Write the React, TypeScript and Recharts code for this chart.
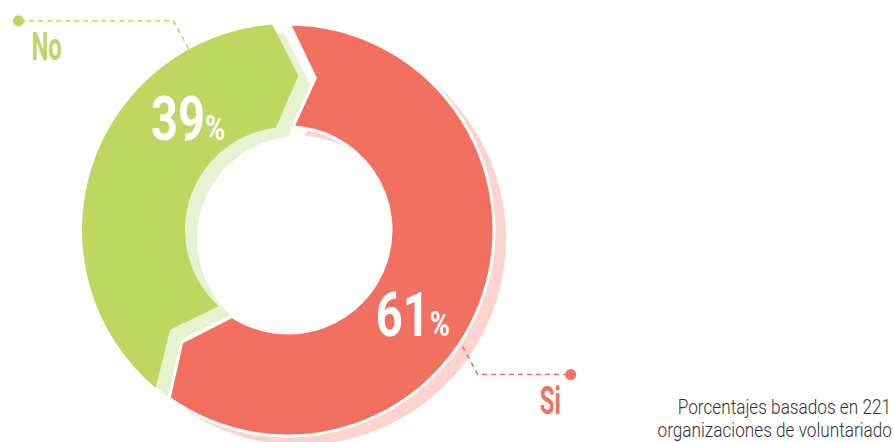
import React from 'react';
import { PieChart, Pie } from 'recharts';

if (typeof document !== 'undefined') {
  document.body.style.margin = '0';
}

// ---- data ----
const categories = ['No', 'Si'];
const values = [39, 61];
const footnoteLines = ['Porcentajes basados en 221', 'organizaciones de voluntariado'];

// ---- styles ----
const MAIN_COLORS = ['#BED760', '#F2705F'];
const SHADOW_COLORS = ['#E7F2D0', '#FBD4D0'];
const FONT = "Roboto, 'Open Sans', 'Liberation Sans', sans-serif";

const data = categories.map((name, i) => ({ name, value: values[i] }));

const W = 894;
const H = 442;
const CX = 288;
const CY = 230;
const RI = 103;
const RO = 206;
const SHADOW_DX = 12;
const SHADOW_DY = 9;
const GAP = 17;
const TIP = 9;
const START = 92;
const LABEL_SHIFT = [-30.5, -16.2];
const LEADER_ANGLE = [118.7, -37.3];
const LEADER_LEN = [-155, 93];

const RAD = Math.PI / 180;
const polar = (cx: number, cy: number, r: number, a: number): [number, number] => [
  cx + r * Math.cos(a * RAD),
  cy - r * Math.sin(a * RAD),
];
const fmt = (p: [number, number]) => `${p[0].toFixed(2)},${p[1].toFixed(2)}`;

function chevronPath(cx: number, cy: number, ri: number, ro: number, s: number, e: number) {
  const rm = (ri + ro) / 2;
  const off = (r: number) => GAP / 2 / r / RAD;
  const o1 = polar(cx, cy, ro, s + off(ro));
  const o2 = polar(cx, cy, ro, e - off(ro));
  const m2 = polar(cx, cy, rm, e - TIP - off(rm));
  const i2 = polar(cx, cy, ri, e - off(ri));
  const i1 = polar(cx, cy, ri, s + off(ri));
  const m1 = polar(cx, cy, rm, s - TIP + off(rm));
  const spanO = e - s - 2 * off(ro);
  const spanI = e - s - 2 * off(ri);
  return `M${fmt(o1)} A${ro},${ro} 0 ${spanO > 180 ? 1 : 0} 0 ${fmt(o2)} L${fmt(m2)} L${fmt(i2)} A${ri},${ri} 0 ${spanI > 180 ? 1 : 0} 1 ${fmt(i1)} L${fmt(m1)} Z`;
}

const renderShadow = (p: any) => {
  const d = chevronPath(p.cx, p.cy, p.innerRadius, p.outerRadius, p.startAngle, p.endAngle);
  return <path key={`shadow-${p.index}`} d={d} fill={SHADOW_COLORS[p.index]} stroke="none" />;
};

const renderMain = (p: any) => {
  const i = p.index;
  const d = chevronPath(p.cx, p.cy, p.innerRadius, p.outerRadius, p.startAngle, p.endAngle);
  const lab = polar(p.cx, p.cy, (p.innerRadius + p.outerRadius) / 2 - 4, p.midAngle + LABEL_SHIFT[i]);
  const pct = Math.round(p.percent * 100);
  const elbow = polar(p.cx, p.cy, p.outerRadius + 32.5, LEADER_ANGLE[i]);
  const sx = i === 0 ? 15 : -15;
  const sy = i === 0 ? 28 : -28;
  const start: [number, number] = [elbow[0] + sx, elbow[1] + sy];
  const dot: [number, number] = [elbow[0] + LEADER_LEN[i], elbow[1]];
  const color = MAIN_COLORS[i];
  const nameX = i === 0 ? dot[0] + 13 : dot[0] - 10;
  return (
    <g key={`main-${i}`}>
      <path d={d} fill={color} stroke={i === 1 ? '#ffffff' : 'none'} strokeWidth={3} />
      <g transform={`translate(${(lab[0] - 37).toFixed(2)},${(lab[1] + 22).toFixed(2)}) scale(0.76,1)`}>
        <text x={0} y={0} fontFamily={FONT} fontWeight={700} fill="#ffffff">
          <tspan fontSize={62}>{pct}</tspan>
          <tspan fontSize={36}>%</tspan>
        </text>
      </g>
      <polyline
        points={`${fmt(start)} ${fmt(elbow)} ${fmt(dot)}`}
        fill="none"
        stroke={color}
        strokeWidth={1.6}
        strokeDasharray="5 4"
      />
      <circle cx={dot[0]} cy={dot[1]} r={5.5} fill={color} />
      <g transform={`translate(${nameX.toFixed(2)},${(dot[1] + 39).toFixed(2)}) scale(0.63,1)`}>
        <text
          x={0}
          y={0}
          textAnchor={i === 0 ? 'start' : 'end'}
          fontFamily={FONT}
          fontWeight={700}
          fontSize={38}
          fill={color}
        >
          {p.name}
        </text>
      </g>
    </g>
  );
};

export default function App() {
  return (
    <div style={{ width: W, height: H, background: '#ffffff' }}>
      <PieChart width={W} height={H} margin={{ top: 0, right: 0, bottom: 0, left: 0 }}>
        <Pie
          data={data}
          dataKey="value"
          nameKey="name"
          cx={CX + SHADOW_DX}
          cy={CY + SHADOW_DY}
          innerRadius={RI}
          outerRadius={RO}
          startAngle={START}
          endAngle={START + 360}
          fill="transparent"
          fillOpacity={0}
          stroke="none"
          label={renderShadow}
          labelLine={false}
          isAnimationActive={false}
        />
        <Pie
          data={data}
          dataKey="value"
          nameKey="name"
          cx={CX}
          cy={CY}
          innerRadius={RI}
          outerRadius={RO}
          startAngle={START}
          endAngle={START + 360}
          fill="transparent"
          fillOpacity={0}
          stroke="none"
          label={renderMain}
          labelLine={false}
          isAnimationActive={false}
        />
        <g transform="translate(891,414) scale(0.86,1)">
          <text x={0} y={0} textAnchor="end" fontFamily={FONT} fontWeight={300} fontSize={20} fill="#333333">
            {footnoteLines[0]}
          </text>
        </g>
        <g transform="translate(892,437) scale(0.86,1)">
          <text x={0} y={0} textAnchor="end" fontFamily={FONT} fontWeight={300} fontSize={20} fill="#333333">
            {footnoteLines[1]}
          </text>
        </g>
      </PieChart>
    </div>
  );
}
